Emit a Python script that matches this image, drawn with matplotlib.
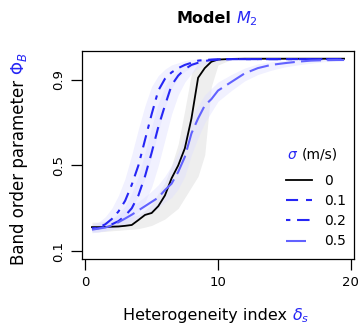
import numpy as np
import matplotlib.pyplot as plt

# heterogeneity index grid
delta = [0.5, 1, 1.5, 2, 2.5, 3, 3.5, 4, 4.5, 5, 5.5, 6, 6.5, 7, 7.5, 8, 8.5,
         9, 9.5, 10, 11, 12, 13, 14, 15, 16, 17, 18, 19, 19.5]

# sigma = 0
phi_0 = [0.212, 0.212, 0.213, 0.214, 0.215, 0.218, 0.222, 0.245, 0.269, 0.278, 0.31, 0.36, 0.44, 0.50, 0.58,
         0.72, 0.91, 0.955, 0.985, 0.995, 0.998, 0.999, 0.999, 0.999, 0.999, 0.999, 0.999, 0.999, 0.999, 0.999]
phi_0_hi = [0.235, 0.235, 0.238, 0.24, 0.245, 0.25, 0.26, 0.27, 0.29, 0.32, 0.37, 0.42, 0.5, 0.6, 0.76,
            0.93, 0.98, 0.99, 0.997, 1.0, 1.0, 1.0, 1.0, 1.0, 1.0, 1.0, 1.0, 1.0, 1.0, 1.0]
phi_0_lo = [0.19, 0.19, 0.192, 0.195, 0.197, 0.2, 0.202, 0.205, 0.212, 0.22, 0.235, 0.25, 0.275, 0.3, 0.35,
            0.40, 0.45, 0.55, 0.87, 0.97, 0.995, 0.997, 0.998, 0.998, 0.998, 0.998, 0.998, 0.998, 0.998, 0.998]

# sigma = 0.1
phi_1 = [0.205, 0.207, 0.215, 0.225, 0.24, 0.265, 0.3, 0.36, 0.45, 0.56, 0.68, 0.78, 0.875, 0.92, 0.95,
         0.97, 0.98, 0.988, 0.993, 0.995, 0.997, 0.997, 0.997, 0.997, 0.997, 0.997, 0.997, 0.997, 0.997, 0.997]
phi_1_hi = [0.22, 0.225, 0.235, 0.25, 0.275, 0.31, 0.37, 0.45, 0.56, 0.68, 0.79, 0.87, 0.92, 0.95, 0.97,
            0.98, 0.99, 0.995, 0.997, 0.998, 0.998, 0.998, 0.998, 0.998, 0.998, 0.998, 0.998, 0.998, 0.998, 0.998]
phi_1_lo = [0.19, 0.19, 0.195, 0.205, 0.215, 0.23, 0.25, 0.28, 0.33, 0.4, 0.5, 0.62, 0.74, 0.83, 0.89,
            0.93, 0.955, 0.97, 0.98, 0.987, 0.992, 0.995, 0.995, 0.995, 0.995, 0.995, 0.995, 0.995, 0.995, 0.995]

# sigma = 0.2
phi_2 = [0.205, 0.21, 0.225, 0.25, 0.285, 0.335, 0.41, 0.5, 0.62, 0.74, 0.85, 0.905, 0.935, 0.955, 0.97,
         0.98, 0.99, 0.993, 0.995, 0.996, 0.997, 0.997, 0.997, 0.997, 0.997, 0.997, 0.997, 0.997, 0.997, 0.997]
phi_2_hi = [0.225, 0.235, 0.26, 0.3, 0.36, 0.44, 0.55, 0.67, 0.78, 0.87, 0.92, 0.95, 0.97, 0.98, 0.99,
            0.995, 0.998, 0.998, 0.998, 0.998, 0.998, 0.998, 0.998, 0.998, 0.998, 0.998, 0.998, 0.998, 0.998, 0.998]
phi_2_lo = [0.19, 0.19, 0.2, 0.215, 0.235, 0.26, 0.3, 0.36, 0.44, 0.54, 0.66, 0.77, 0.86, 0.91, 0.94,
            0.96, 0.975, 0.985, 0.99, 0.993, 0.995, 0.995, 0.995, 0.995, 0.995, 0.995, 0.995, 0.995, 0.995, 0.995]

# sigma = 0.5
phi_5 = [0.2, 0.205, 0.21, 0.22, 0.235, 0.252, 0.27, 0.29, 0.31, 0.33, 0.35, 0.385, 0.415, 0.47, 0.54,
         0.65, 0.72, 0.78, 0.81, 0.85, 0.89, 0.93, 0.955, 0.97, 0.978, 0.985, 0.99, 0.992, 0.993, 0.993]
phi_5_hi = [0.22, 0.225, 0.235, 0.25, 0.27, 0.29, 0.31, 0.33, 0.355, 0.38, 0.41, 0.45, 0.5, 0.56, 0.64,
            0.73, 0.78, 0.83, 0.86, 0.89, 0.925, 0.955, 0.975, 0.985, 0.99, 0.993, 0.995, 0.996, 0.996, 0.996]
phi_5_lo = [0.185, 0.19, 0.195, 0.2, 0.21, 0.22, 0.235, 0.25, 0.265, 0.28, 0.3, 0.33, 0.35, 0.39, 0.45,
            0.55, 0.63, 0.7, 0.75, 0.8, 0.85, 0.895, 0.925, 0.945, 0.96, 0.97, 0.978, 0.985, 0.988, 0.99]

sigma_labels = ['0', '0.1', '0.2', '0.5']

blue = '#2626f5'
light_blue = '#6262ff'
band_blue = '#e0e0ff'
band_grey = '#eeeeee'

plt.rcParams['font.family'] = 'DejaVu Sans'

fig = plt.figure(figsize=(3.6, 3.26), dpi=100)
ax = fig.add_axes([82/360, 67/326, 272/360, 208/326])

ax.fill_between(delta, phi_0_lo, phi_0_hi, color=band_grey, lw=0)
for lo, hi in [(phi_5_lo, phi_5_hi), (phi_1_lo, phi_1_hi), (phi_2_lo, phi_2_hi)]:
    ax.fill_between(delta, lo, hi, color=band_blue, alpha=0.45, lw=0)

ax.plot(delta, phi_0, color='black', lw=1.3, label=sigma_labels[0])
ax.plot(delta, phi_1, color=blue, lw=1.5, dashes=(5.8, 3.8), label=sigma_labels[1])
ax.plot(delta, phi_2, color=blue, lw=1.5, dashes=(2.1, 3.2, 6, 3.2), label=sigma_labels[2])
ax.plot(delta, phi_5, color=light_blue, lw=1.5, dashes=(9.6, 3), label=sigma_labels[3])

ax.set_xlim(-0.25, 20.25)
ax.set_ylim(0.063, 1.035)
ax.set_xticks([0, 10, 20])
ax.set_yticks([0.1, 0.5, 0.9])
ax.set_yticklabels(['0.1', '0.5', '0.9'], rotation=90, va='center')
ax.tick_params(direction='out', length=8, width=0.9, labelsize=9.5)
ax.tick_params(axis='x', pad=4)
ax.tick_params(axis='y', pad=4)
for s in ax.spines.values():
    s.set_linewidth(0.9)

leg = ax.legend(loc='upper left', bbox_to_anchor=(0.75, 0.41), frameon=False, fontsize=10,
                handlelength=1.9, handletextpad=0.85, labelspacing=0.45, borderpad=0, borderaxespad=0)

# legend title
fig.text(287/360, 1 - 155/326, r'$\sigma$', color=blue, fontsize=10, va='center', ha='left')
fig.text(302/360, 1 - 155/326, '(m/s)', fontsize=10, va='center', ha='left')

# title
fig.text(177/360, 1 - 23/326, 'Model', fontsize=11.5, fontweight='bold', va='baseline', ha='left')
fig.text(236/360, 1 - 23/326, r'$M_2$', fontsize=11.5, color=blue, va='baseline', ha='left')

# axis labels
fig.text(123/360, 1 - 320/326, 'Heterogeneity index', fontsize=11.5, va='baseline', ha='left')
fig.text(292/360, 1 - 320/326, r'$\delta_s$', fontsize=11.5, color=blue, va='baseline', ha='left')

yl = fig.text(19/360, 1 - 265/326, 'Band order parameter ', fontsize=12, rotation=90, va='bottom', ha='center')
ax.annotate(r'$\Phi_B$', xy=(0.5, 1), xycoords=yl, va='bottom', ha='center', fontsize=12,
            color=blue, rotation=90)

fig.savefig('out.png', dpi=100)
